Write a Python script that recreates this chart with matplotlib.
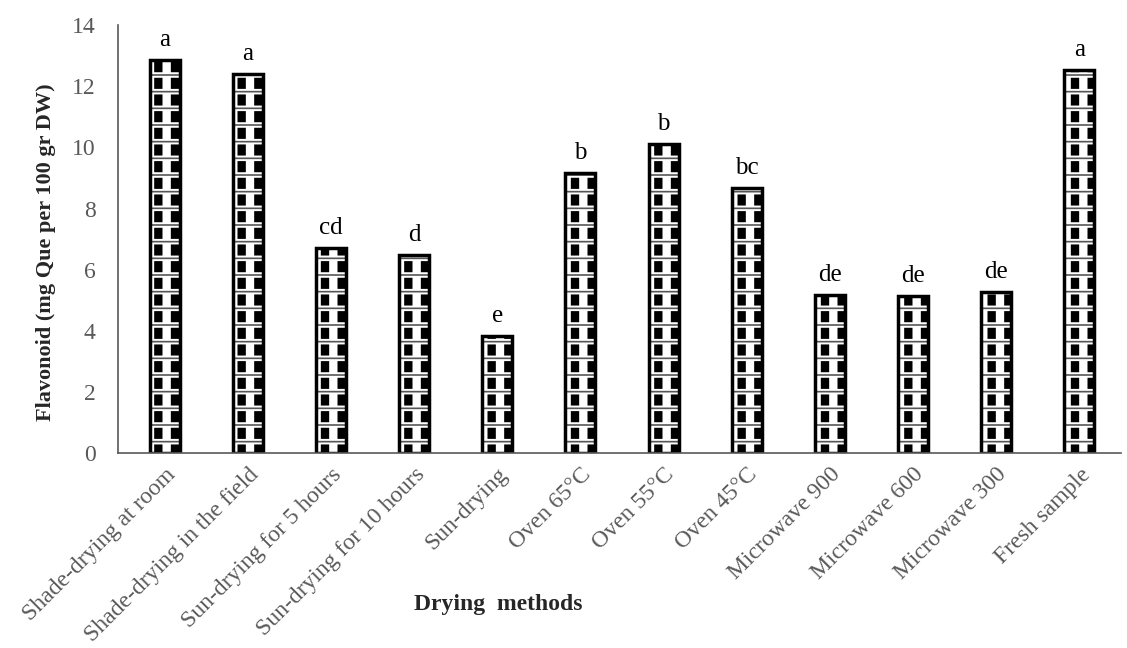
import numpy as np
import matplotlib.pyplot as plt

plt.rcParams['font.family'] = ['Liberation Serif', 'DejaVu Serif']

methods = ['Shade-drying at room', 'Shade-drying in the field', 'Sun-drying for 5 hours',
           'Sun-drying for 10 hours', 'Sun-drying', 'Oven 65°C', 'Oven 55°C', 'Oven 45°C',
           'Microwave 900', 'Microwave 600', 'Microwave 300', 'Fresh sample']
flavonoid = [12.86, 12.4, 6.7, 6.48, 3.83, 9.16, 10.12, 8.67, 5.17, 5.14, 5.27, 12.53]
groups = ['a', 'a', 'cd', 'd', 'e', 'b', 'b', 'bc', 'de', 'de', 'de', 'a']

fig = plt.figure(figsize=(11.27, 6.48), dpi=100)
ax = fig.add_axes([0.1047, 0.301, 0.89, 0.66])

x = np.arange(len(methods))
w = 0.36
# checkered fill: thick black vertical stripes cut by white horizontal bands
with plt.rc_context({'hatch.linewidth': 6.0}):
    ax.bar(x, flavonoid, width=w, color='white', edgecolor='black', linewidth=0, hatch='|')
with plt.rc_context({'hatch.linewidth': 4.0}):
    ax.bar(x, flavonoid, width=w, color='none', edgecolor='white', linewidth=0, hatch='-')
with plt.rc_context({'hatch.linewidth': 1.2}):
    ax.bar(x, flavonoid, width=w, color='none', edgecolor='#555555', linewidth=0, hatch='-')
ax.bar(x, flavonoid, width=w, color='none', edgecolor='black', linewidth=2.5)

for xi, v, g in zip(x, flavonoid, groups):
    ax.text(xi, v + 0.3, g, ha='center', va='bottom', fontsize=18, color='black')

ax.set_xlim(-0.56, 11.5)
ax.set_ylim(0, 14)
ax.set_yticks(range(0, 15, 2))
ax.set_xticks(x)
ax.set_xticklabels(methods, rotation=45, ha='right', rotation_mode='anchor',
                   fontsize=17, color='#404040')
ax.tick_params(axis='both', length=0, labelsize=17, labelcolor='#595959')
ax.tick_params(axis='x', pad=8)
ax.tick_params(axis='y', pad=16)

for s in ['top', 'right']:
    ax.spines[s].set_visible(False)
for s in ['left', 'bottom']:
    ax.spines[s].set_color('#595959')
    ax.spines[s].set_linewidth(1.2)

ax.set_ylabel('Flavonoid (mg Que per 100 gr DW)', fontsize=16, fontweight='bold',
              color='#262626')
ax.yaxis.set_label_coords(-0.062, 0.47)
fig.text(0.442, 0.058, 'Drying  methods', fontsize=17, fontweight='bold',
         color='#262626', ha='center')

fig.savefig('out.png', dpi=100)
